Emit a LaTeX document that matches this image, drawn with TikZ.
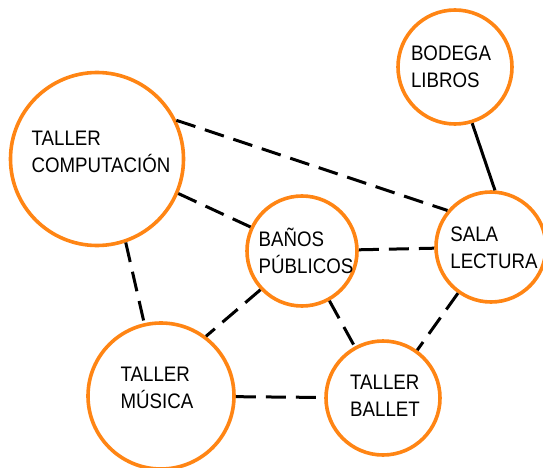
\documentclass[tikz,border=0pt]{standalone}
\usepackage{fontspec}
\setmainfont{Liberation Sans}[FakeStretch=0.89]
\definecolor{ringorange}{RGB}{255,133,20}
\begin{document}
\begin{tikzpicture}[x=1pt,y=-1pt,
  room/.style={circle,draw=ringorange,line width=3.6pt,fill=white,inner sep=0pt},
  roomtext/.style={align=left,inner sep=0pt,font=\fontsize{21}{27}\selectfont},
  link/.style={line width=3pt,draw=black,dash pattern=on 20pt off 10pt},
  solidlink/.style={line width=3pt,draw=black}]
\useasboundingbox[fill=white] (0,0) rectangle (543,468);
\node[room,minimum size=173pt] (comp) at (97,159) {};
\node[room,minimum size=110pt] (banos) at (302,251) {};
\node[room,minimum size=114pt] (bodega) at (455,67) {};
\node[room,minimum size=110pt] (sala) at (491,247) {};
\node[room,minimum size=146pt] (musica) at (161,396) {};
\node[room,minimum size=114pt] (ballet) at (383,398) {};
\node[roomtext] (tcomp) at (101,152) {TALLER\\COMPUTACIÓN};
\node[roomtext] (tbanos) at (306,251) {BAÑOS\\PÚBLICOS};
\node[roomtext] (tbodega) at (451,67) {BODEGA\\LIBROS};
\node[roomtext] (tsala) at (494,248) {SALA\\LECTURA};
\node[roomtext] (tmusica) at (157,388) {TALLER\\MÚSICA};
\node[roomtext] (tballet) at (385,396) {TALLER\\BALLET};
\draw[link] (comp.26.6) -- (sala.140);
\draw[link] (comp.-23) -- (banos.155);
\draw[link] (comp.-71) -- (musica.103);
\draw[link] (banos) -- (sala);
\draw[link] (banos.223) -- (musica.53);
\draw[link] (banos) -- (ballet);
\draw[link] (musica) -- (ballet);
\draw[link] (sala) -- (ballet);
\draw[solidlink] (bodega.-73.6) -- (sala.86);
\end{tikzpicture}
\end{document}
